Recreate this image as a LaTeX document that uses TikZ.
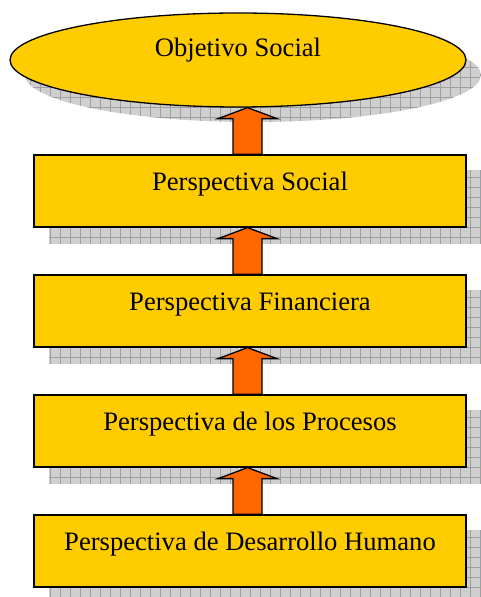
\documentclass[tikz,border=0pt]{standalone}
\usepackage{fontspec}
\setmainfont{Liberation Serif}
\usetikzlibrary{shapes.geometric,patterns.meta,backgrounds,calc}
\definecolor{boxyellow}{HTML}{FFCC00}
\definecolor{arroworange}{HTML}{FF6600}
\tikzset{
  perspbox/.style={draw=black, line width=1.3pt, fill=boxyellow, rectangle,
    minimum width=432pt, minimum height=72pt, inner sep=0pt,
    text height=10pt, text depth=10pt,
    font=\fontsize{26.6}{30}\selectfont},
  goalellipse/.style={draw=black, line width=1.3pt, fill=boxyellow, ellipse,
    minimum width=456pt, minimum height=94pt, inner sep=0pt,
    text height=10pt, text depth=16pt,
    font=\fontsize{26.6}{30}\selectfont},
  shadowfill/.style={preaction={fill=gray!38},
    pattern={Hatch[distance=10pt,angle=0,line width=0.7pt]}, pattern color=gray!75},
  blockarrow/.style={draw=black, line width=1.3pt, fill=arroworange, line join=miter}
}
\newcommand{\uparrowbetween}[2]{%
  \path[blockarrow] let \p1=(#1.north), \p2=(#2.south) in
    (\x1-17pt,\y1) -- (\x1-17pt,\y2-11pt) -- (\x1-32pt,\y2-11pt) -- (\x1-2.5pt,\y2)
    -- (\x1+27pt,\y2-11pt) -- (\x1+12pt,\y2-11pt) -- (\x1+12pt,\y1) -- cycle;}
\begin{document}
\begin{tikzpicture}[x=1pt,y=1pt]
\useasboundingbox (0,0) rectangle (480,597);
\node[goalellipse] (goal) at (238,537) {Objetivo Social};
\node[perspbox] (social) at (250,406) {Perspectiva Social};
\node[perspbox] (fin) at (250,286) {Perspectiva Financiera};
\node[perspbox] (proc) at (250,166) {Perspectiva de los Procesos};
\node[perspbox] (hum) at (250,46) {Perspectiva de Desarrollo Humano};
\begin{scope}[on background layer]
  \path[shadowfill] ([shift={(15pt,-15pt)}]goal.center) ellipse [x radius=228pt, y radius=47pt];
  \foreach \n in {social,fin,proc,hum}{
    \path[shadowfill] ([shift={(16pt,-16pt)}]\n.south west) rectangle ([shift={(16pt,-16pt)}]\n.north east);
  }
\end{scope}
\uparrowbetween{social}{goal}
\uparrowbetween{fin}{social}
\uparrowbetween{proc}{fin}
\uparrowbetween{hum}{proc}
\end{tikzpicture}
\end{document}
